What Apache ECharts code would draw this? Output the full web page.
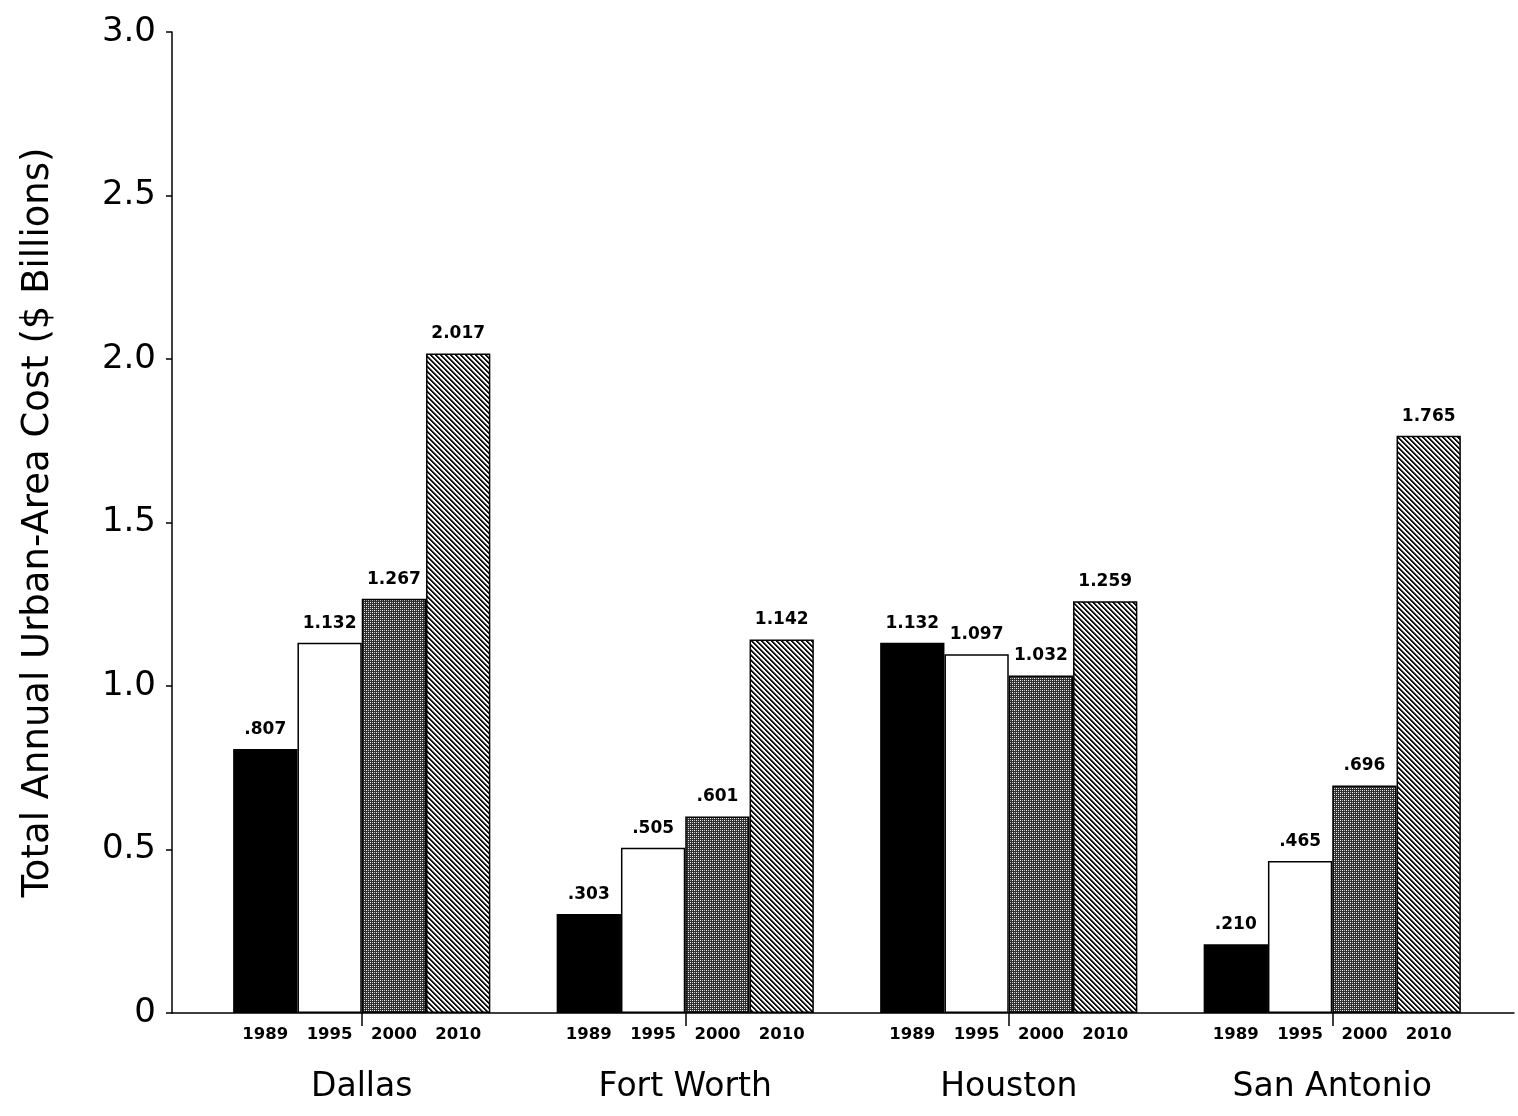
<!DOCTYPE html>
<html>
<head>
<meta charset="utf-8">
<script src="https://cdn.jsdelivr.net/npm/echarts@6/dist/echarts.min.js"></script>
<style>
  html, body { margin: 0; padding: 0; background: #fff; }
  #chart { width: 1518px; height: 1116px; }
</style>
</head>
<body>
<div id="chart"></div>
<script>
// Urban areas and the cost estimates ($ billions) for each study year
const cities = ['Dallas', 'Fort Worth', 'Houston', 'San Antonio'];
const years = ['1989', '1995', '2000', '2010'];
const cost1989 = [0.807, 0.303, 1.132, 0.210];
const cost1995 = [1.132, 0.505, 1.097, 0.465];
const cost2000 = [1.267, 0.601, 1.032, 0.696];
const cost2010 = [2.017, 1.142, 1.259, 1.765];
const yTicks = [0, 0.5, 1.0, 1.5, 2.0, 2.5, 3.0];

const FONT = '"DejaVu Sans", Verdana, sans-serif';

// Fill patterns built on small canvases
function dotPattern() {
  const c = document.createElement('canvas');
  c.width = 4; c.height = 4;
  const g = c.getContext('2d');
  g.fillStyle = '#303030';
  g.fillRect(0, 0, 4, 4);
  g.fillStyle = '#ffffff';
  g.fillRect(0, 0, 1, 1);
  g.fillRect(2, 2, 1, 1);
  g.fillStyle = '#b8b8b8';
  g.fillRect(2, 0, 1, 1);
  g.fillRect(0, 2, 1, 1);
  return c;
}
function stripePattern() {
  const n = 5;
  const c = document.createElement('canvas');
  c.width = n; c.height = n;
  const g = c.getContext('2d');
  g.fillStyle = '#ffffff';
  g.fillRect(0, 0, n, n);
  for (let y = 0; y < n; y++) {
    for (let x = 0; x < n; x++) {
      const d = ((x - y) % n + n) % n;
      if (d === 0 || d === 1) { g.fillStyle = '#111111'; g.fillRect(x, y, 1, 1); }
      else if (d === 2) { g.fillStyle = '#8a8a8a'; g.fillRect(x, y, 1, 1); }
    }
  }
  return c;
}

const fills = [
  '#000000',
  '#ffffff',
  { image: dotPattern(), repeat: 'repeat' },
  { image: stripePattern(), repeat: 'repeat' }
];
const seriesValues = [cost1989, cost1995, cost2000, cost2010];

function fmtValue(v) {
  const s = v.toFixed(3);
  return s.startsWith('0') ? s.slice(1) : s;
}

const series = [];
// visible bars with value labels on top
years.forEach((yr, i) => {
  series.push({
    name: yr,
    type: 'bar',
    xAxisIndex: 0,
    yAxisIndex: 0,
    data: seriesValues[i],
    barGap: '0%',
    barCategoryGap: '20.5%',
    itemStyle: { color: fills[i], borderColor: '#000', borderWidth: 1.5 },
    label: {
      show: true,
      position: 'top',
      distance: 11,
      formatter: p => fmtValue(p.value),
      fontFamily: FONT,
      fontWeight: 'bold',
      fontSize: 17,
      color: '#000'
    },
    silent: true
  });
});
// matching transparent bars that carry the year labels under the axis
years.forEach((yr, i) => {
  series.push({
    name: yr + ' label',
    type: 'bar',
    xAxisIndex: 1,
    yAxisIndex: 0,
    data: seriesValues[i],
    barGap: '0%',
    barCategoryGap: '20.5%',
    itemStyle: { color: 'rgba(0,0,0,0)' },
    label: {
      show: true,
      position: 'bottom',
      distance: 13,
      formatter: () => yr,
      fontFamily: FONT,
      fontWeight: 'bold',
      fontSize: 16.5,
      color: '#000'
    },
    silent: true,
    z: 5
  });
});

const chart = echarts.init(document.getElementById('chart'), null, { renderer: 'canvas' });
chart.setOption({
  animation: false,
  backgroundColor: '#ffffff',
  grid: [
    { left: 200, right: 24, top: 32, bottom: 103 },
    { left: 172, right: 4, top: 32, bottom: 103 }
  ],
  xAxis: [
    {
      type: 'category',
      gridIndex: 0,
      data: cities,
      axisLine: { show: false },
      axisTick: { show: true, alignWithLabel: true, length: 13, lineStyle: { color: '#000', width: 1.5 } },
      axisLabel: { margin: 58, fontFamily: FONT, fontSize: 33, color: '#000' }
    },
    {
      type: 'category',
      gridIndex: 0,
      data: cities,
      show: false
    },
    {
      type: 'value',
      gridIndex: 1,
      min: 0,
      max: 1,
      axisLine: { show: true, lineStyle: { color: '#000', width: 1.5 } },
      axisTick: { show: false },
      axisLabel: { show: false },
      splitLine: { show: false }
    }
  ],
  yAxis: [
    {
      type: 'value',
      gridIndex: 0,
      min: 0,
      max: 3,
      show: false,
      splitLine: { show: false }
    },
    {
      type: 'value',
      gridIndex: 1,
      min: yTicks[0],
      max: yTicks[yTicks.length - 1],
      interval: 0.5,
      name: 'Total Annual Urban-Area Cost ($ Billions)',
      nameLocation: 'middle',
      nameGap: 115,
      nameTextStyle: { fontFamily: FONT, fontSize: 37, color: '#000' },
      axisLine: { show: true, lineStyle: { color: '#000', width: 1.5 } },
      axisTick: { show: true, length: 6, lineStyle: { color: '#000', width: 1.5 } },
      axisLabel: {
        margin: 16,
        fontFamily: FONT,
        fontSize: 34,
        color: '#000',
        formatter: v => (v === 0 ? '0' : v.toFixed(1))
      },
      splitLine: { show: false }
    }
  ],
  series: series
});
</script>
</body>
</html>
